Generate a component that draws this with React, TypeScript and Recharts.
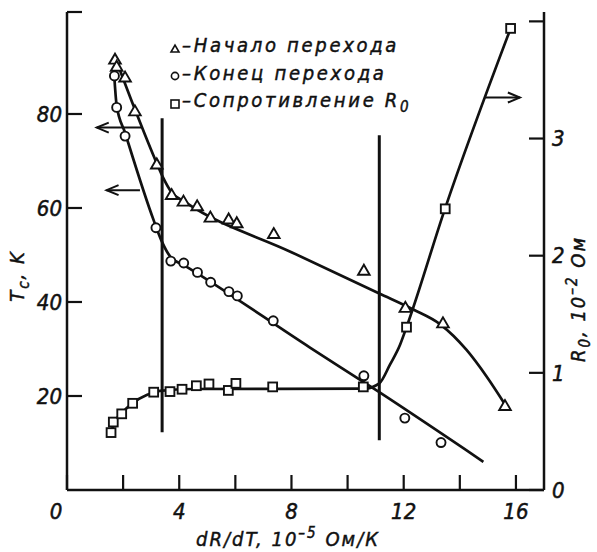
import React from "react";
import { ComposedChart, XAxis, YAxis, Line, Scatter, ReferenceLine, Customized } from "recharts";

const FONT = "'DejaVu Sans Condensed', 'DejaVu Sans', sans-serif";
const INK = "#111";

// x ticks every 2, labels every 4
const xTicks = [0, 2, 4, 6, 8, 10, 12, 14, 16];
const tcTicks = [20, 40, 60, 80, 101.7];
const r0Ticks = [0, 1, 2, 3, 4];

// measured points, x = dR/dT (10^-5 Ом/К)
const onsetPoints = [
  { x: 1.71, y: 91.6 }, { x: 1.77, y: 90.1 }, { x: 2.07, y: 87.8 }, { x: 2.42, y: 80.6 },
  { x: 3.2, y: 69.3 }, { x: 3.73, y: 62.8 }, { x: 4.15, y: 61.4 }, { x: 4.64, y: 60.4 },
  { x: 5.11, y: 58.0 }, { x: 5.76, y: 57.6 }, { x: 6.05, y: 56.8 }, { x: 7.37, y: 54.5 },
  { x: 10.58, y: 46.7 }, { x: 12.06, y: 38.8 }, { x: 13.4, y: 35.5 }, { x: 15.61, y: 17.9 },
];

const endPoints = [
  { x: 1.69, y: 88.1 }, { x: 1.77, y: 81.4 }, { x: 2.07, y: 75.3 }, { x: 3.17, y: 55.8 },
  { x: 3.7, y: 48.7 }, { x: 4.16, y: 48.3 }, { x: 4.65, y: 46.3 }, { x: 5.12, y: 44.2 },
  { x: 5.77, y: 42.2 }, { x: 6.07, y: 41.3 }, { x: 7.35, y: 36.0 }, { x: 10.58, y: 24.3 },
  { x: 12.04, y: 15.3 }, { x: 13.33, y: 10.1 },
];

const r0Points = [
  { x: 1.57, y: 0.49 }, { x: 1.65, y: 0.58 }, { x: 1.95, y: 0.65 }, { x: 2.34, y: 0.74 },
  { x: 3.09, y: 0.835 }, { x: 3.67, y: 0.84 }, { x: 4.1, y: 0.86 }, { x: 4.61, y: 0.89 },
  { x: 5.06, y: 0.905 }, { x: 5.75, y: 0.85 }, { x: 6.02, y: 0.91 }, { x: 7.33, y: 0.88 },
  { x: 10.56, y: 0.88 }, { x: 12.1, y: 1.39 }, { x: 13.48, y: 2.4 }, { x: 15.81, y: 3.94 },
];

// hand-drawn fit curves
const onsetCurve = [
  { x: 1.72, y: 92 }, { x: 2.42, y: 81 }, { x: 3.2, y: 69.5 }, { x: 3.43, y: 66.4 },
  { x: 3.73, y: 63.3 }, { x: 4.2, y: 61.3 }, { x: 8.0, y: 50.6 }, { x: 11.13, y: 41.8 },
  { x: 12.34, y: 38.4 }, { x: 13.29, y: 35.3 }, { x: 14.24, y: 29.8 }, { x: 14.96, y: 24.1 },
  { x: 15.6, y: 18.3 },
];

const endCurve = [
  { x: 1.68, y: 88.5 }, { x: 1.77, y: 81.8 }, { x: 2.07, y: 76 }, { x: 3.1, y: 57.2 },
  { x: 3.37, y: 53 }, { x: 3.7, y: 49.5 }, { x: 4.15, y: 47.9 }, { x: 8.66, y: 30.3 },
  { x: 11.13, y: 20.8 }, { x: 14.84, y: 6.0 },
];

const r0Curve = [
  { x: 1.58, y: 0.5 }, { x: 1.71, y: 0.585 }, { x: 1.95, y: 0.656 }, { x: 2.34, y: 0.742 },
  { x: 2.84, y: 0.81 }, { x: 3.31, y: 0.846 }, { x: 4.5, y: 0.862 }, { x: 10.6, y: 0.865 },
  { x: 11.13, y: 0.91 }, { x: 11.51, y: 1.07 }, { x: 11.87, y: 1.24 }, { x: 12.1, y: 1.39 },
  { x: 13.47, y: 2.4 }, { x: 15.81, y: 3.94 },
];

// vertical guide lines and axis arrows (in data units)
const guideLines = [
  { x: 3.39, from: 12.3, to: 79.1 },
  { x: 11.13, from: 10.6, to: 75.5 },
];
const leftArrows = [
  { y: 77.1, from: 2.66, to: 1.06 },
  { y: 63.8, from: 2.6, to: 1.41 },
];
const rightArrow = { y: 83.5, from: 14.9, to: 16.14 };

const Triangle = ({ cx, cy }: any) => (
  <polygon
    points={`${cx},${cy - 5.8} ${cx - 5.8},${cy + 4.2} ${cx + 5.8},${cy + 4.2}`}
    fill="#fff" stroke={INK} strokeWidth={1.9}
  />
);
const Circle = ({ cx, cy }: any) => (
  <circle cx={cx} cy={cy} r={4.5} fill="#fff" stroke={INK} strokeWidth={1.9} />
);
const Square = ({ cx, cy }: any) => (
  <rect x={cx - 4.4} y={cy - 4.4} width={8.8} height={8.8} fill="#fff" stroke={INK} strokeWidth={1.9} />
);

const Arrow = (props: any) => {
  const { x1, y1, x2, y2 } = props;
  const dir = x2 > x1 ? 1 : -1;
  return (
    <g stroke={INK} strokeWidth={2} fill="none">
      <line x1={x1} y1={y1} x2={x2} y2={y2} />
      <polyline points={`${x2 - dir * 12},${y2 - 5} ${x2},${y2} ${x2 - dir * 12},${y2 + 5}`} />
    </g>
  );
};

const XTick = ({ x, y, payload }: any) => {
  const v = payload.value;
  if (v % 4 !== 0) return <g />;
  return (
    <text x={v === 0 ? x - 11 : x} y={y} dy="0.71em" textAnchor="middle"
      fill={INK} stroke={INK} strokeWidth={0.5} fontSize={22} fontStyle="italic" fontFamily={FONT}>
      {v}
    </text>
  );
};

const Notes = () => (
  <g fontFamily={FONT} fontStyle="italic" fill={INK}>
    <polygon points="171,52 179,52 175,45" fill="none" stroke={INK} strokeWidth={1.6} />
    <circle cx={175} cy={76} r={3.6} fill="none" stroke={INK} strokeWidth={1.6} />
    <rect x={171} y={100} width={8} height={8} fill="none" stroke={INK} strokeWidth={1.6} />
    <g stroke={INK} strokeWidth={0.45}>
      <text x={182} y={52} fontSize={20} letterSpacing={2.7}>–Начало перехода</text>
      <text x={182} y={80} fontSize={20} letterSpacing={2.7}>–Конец перехода</text>
      <text x={182} y={107} fontSize={20} letterSpacing={2.7}>
        –Сопротивление R<tspan dy={5} fontSize={15}>0</tspan>
      </text>
      <text x={24} y={276} fontSize={20} letterSpacing={2} textAnchor="middle"
        transform="rotate(-90 24 276)">
        T<tspan dy={5} fontSize={15}>c</tspan><tspan dy={-5}>, K</tspan>
      </text>
      <text x={585} y={299} fontSize={20} letterSpacing={2} textAnchor="middle"
        transform="rotate(-90 585 299)">
        R<tspan dy={5} fontSize={15}>0</tspan><tspan dy={-5}>, 10</tspan>
        <tspan dy={-8} fontSize={15}>–2</tspan><tspan dy={8}> Ом</tspan>
      </text>
      <text x={288} y={546} fontSize={20} letterSpacing={2} textAnchor="middle">
        dR/dT, 10<tspan dy={-8} fontSize={15}>–5</tspan><tspan dy={8}> Ом/К</tspan>
      </text>
    </g>
  </g>
);

export default function App() {
  const tickStyle = { fill: INK, stroke: INK, strokeWidth: 0.5, fontSize: 22, fontStyle: "italic", fontFamily: FONT };
  const axisLine = { stroke: INK, strokeWidth: 2.5 };
  const tickLine = { stroke: INK, strokeWidth: 2.2 };
  return (
    <div style={{ position: "absolute", left: 0, top: 0, background: "#fff" }}>
      <ComposedChart width={597} height={552} margin={{ top: 12, right: 13, bottom: 22, left: 7 }}>
        <XAxis
          dataKey="x" type="number" domain={[0, 17]} ticks={xTicks} height={40}
          axisLine={axisLine} tickLine={tickLine} tickSize={-15} tickMargin={28}
          tick={<XTick />} interval={0} allowDataOverflow
        />
        <YAxis
          yAxisId="left" type="number" domain={[0, 101.7]} ticks={tcTicks} width={60}
          axisLine={axisLine} tickLine={tickLine} tickSize={-15} tickMargin={20}
          tick={tickStyle} interval={0} allowDataOverflow
          tickFormatter={(v: number) => (v > 100 ? "" : String(v))}
        />
        <YAxis
          yAxisId="right" orientation="right" type="number" domain={[0, 4.08]} ticks={r0Ticks} width={40}
          axisLine={axisLine} tickLine={tickLine} tickSize={-15} tickMargin={23}
          tick={tickStyle} interval={0} allowDataOverflow
          tickFormatter={(v: number) => (v === 4 ? "" : String(v))}
        />

        {guideLines.map((g, i) => (
          <ReferenceLine key={`g${i}`} yAxisId="left" stroke={INK} strokeWidth={3}
            segment={[{ x: g.x, y: g.from }, { x: g.x, y: g.to }]} />
        ))}
        {leftArrows.map((a, i) => (
          <ReferenceLine key={`a${i}`} yAxisId="left" shape={Arrow}
            segment={[{ x: a.from, y: a.y }, { x: a.to, y: a.y }]} />
        ))}
        <ReferenceLine yAxisId="left" shape={Arrow}
          segment={[{ x: rightArrow.from, y: rightArrow.y }, { x: rightArrow.to, y: rightArrow.y }]} />

        <Line yAxisId="left" data={onsetCurve} dataKey="y" type="monotone" dot={false}
          stroke={INK} strokeWidth={2.7} isAnimationActive={false} />
        <Line yAxisId="left" data={endCurve} dataKey="y" type="monotone" dot={false}
          stroke={INK} strokeWidth={2.7} isAnimationActive={false} />
        <Line yAxisId="right" data={r0Curve} dataKey="y" type="monotone" dot={false}
          stroke={INK} strokeWidth={2.7} isAnimationActive={false} />

        <Scatter yAxisId="left" data={onsetPoints} dataKey="y" shape={Triangle} isAnimationActive={false} />
        <Scatter yAxisId="left" data={endPoints} dataKey="y" shape={Circle} isAnimationActive={false} />
        <Scatter yAxisId="right" data={r0Points} dataKey="y" shape={Square} isAnimationActive={false} />

        <Customized component={Notes} />
      </ComposedChart>
    </div>
  );
}
